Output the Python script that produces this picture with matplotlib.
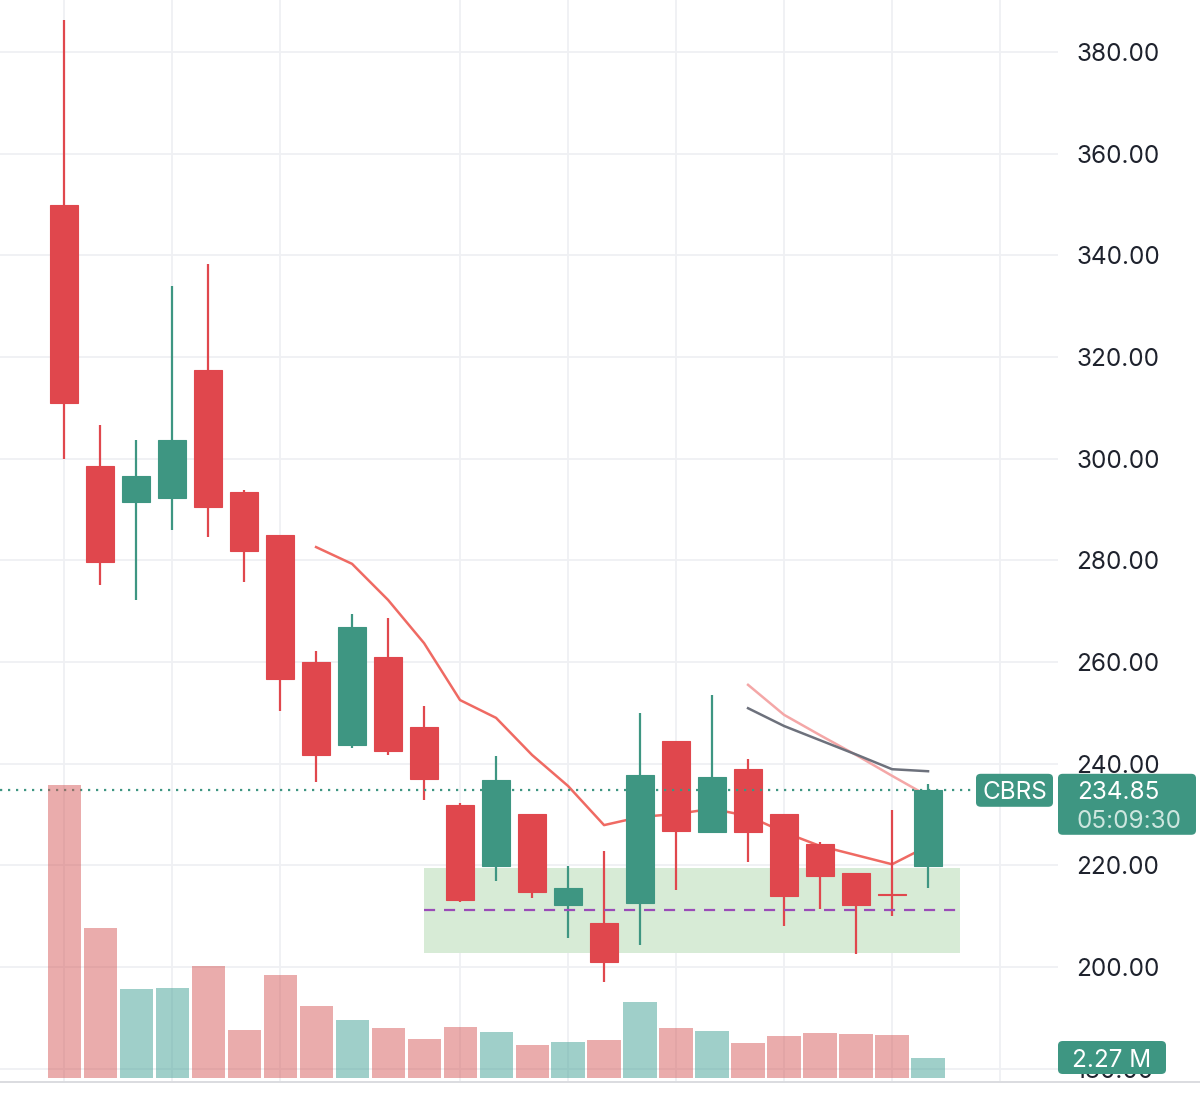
"""
CBRS daily candles with volume, moving averages and a support zone
(TradingView-style layout, price scale on the right).
"""
import matplotlib

matplotlib.use("Agg")
import matplotlib.pyplot as plt
import numpy as np
from matplotlib.lines import Line2D
from matplotlib.patches import FancyBboxPatch

# --- data -----------------------------------------------------------------
opens = [349.9, 298.6, 291.5, 292.3, 317.4, 293.4, 285.0, 260.0, 243.7, 261.0,
         247.2, 231.9, 219.9, 230.1, 212.2, 208.6, 212.6, 244.5, 226.5, 238.9,
         230.1, 224.2, 218.5, 214.3, 219.9]
closes = [311.0, 279.7, 296.6, 303.7, 290.5, 281.8, 256.6, 241.7, 266.9, 242.5,
          237.0, 213.2, 236.8, 214.8, 215.5, 201.0, 237.8, 226.7, 237.4, 226.5,
          214.0, 217.9, 212.2, 214.1, 234.85]
highs = [386.3, 306.6, 303.7, 334.0, 338.3, 293.8, 285.0, 262.2, 269.4, 268.6,
         251.3, 232.3, 241.5, 230.1, 219.9, 222.8, 250.0, 244.5, 253.5, 240.9,
         230.1, 224.6, 218.5, 230.9, 236.0]
lows = [299.9, 275.1, 272.2, 286.0, 284.6, 275.7, 250.4, 236.4, 243.1, 241.7,
        232.8, 212.8, 216.9, 213.6, 205.7, 197.0, 204.3, 215.1, 226.5, 220.6,
        208.1, 211.4, 202.6, 210.0, 215.6]
volume_m = [33.3, 17.0, 10.1, 10.2, 12.7, 5.4, 11.7, 8.2, 6.6, 5.7,
            4.4, 5.8, 5.2, 3.7, 4.1, 4.3, 8.6, 5.7, 5.3, 4.0,
            4.8, 5.1, 5.0, 4.9, 2.27]

ma_red_start = 7
ma_red = [282.6, 279.3, 272.2, 263.7, 252.5, 249.0, 241.7, 235.6, 227.9,
          229.5, 230.1, 231.1, 229.7, 226.5, 223.8, 222.0, 220.2, 223.8]
ma_short_start = 19
ma_pink = [255.5, 249.6, 245.6, 241.7, 237.6, 233.6]
ma_gray = [250.9, 247.4, 244.6, 241.8, 238.9, 238.5]

zone_x = (10.0, 24.9)
zone_lo, zone_hi = 202.7, 219.5
zone_mid = 211.2

ticker = "CBRS"
countdown = "05:09:30"
price_ticks = [180, 200, 220, 240, 260, 280, 300, 320, 340, 360, 380]
grid_x = [0, 3, 6, 11, 14, 17, 20, 23, 26]

# --- style ------------------------------------------------------------------
UP = "#3E9682"
DOWN = "#E0474D"
VOL_UP = "#41A195"
VOL_DOWN = "#D65A5A"
GRID = "#EFF0F3"
TEXT = "#1E222D"
W, H = 1200, 1094

plt.rcParams["font.family"] = ["Inter", "DejaVu Sans"]

fig = plt.figure(figsize=(W / 100, H / 100), dpi=100)
ax = fig.add_axes([0, 13 / H, 1058 / W, 1081 / H])
# twin drawn on top of ax, so the grid shows through the translucent bars
vax = ax.twinx()

idx = np.arange(len(opens))
o, c = np.array(opens), np.array(closes)
up = c >= o
colors = np.where(up, UP, DOWN)

# volume (own scale, bottom of the pane)
vax.bar(idx, volume_m, width=0.92,
        color=np.where(up, VOL_UP, VOL_DOWN), alpha=0.5, linewidth=0)
vax.set_ylim(-0.34, 122.35)
vax.axis("off")

# support zone + mid line
ax.fill_between(zone_x, zone_lo, zone_hi, color="#D7EBD6", lw=0, zorder=1)
ax.hlines(zone_mid, *zone_x, colors="#9A4DB7", linestyles=(0, (5, 4)),
          lw=1.6, zorder=6)

# moving averages (behind candles)
ax.plot(idx[ma_red_start:], ma_red, color="#EF6A63", lw=1.8, zorder=2)
ax.plot(idx[ma_short_start:], ma_pink, color="#F4A7A7", lw=1.8, zorder=2)
ax.plot(idx[ma_short_start:], ma_gray, color="#6D717C", lw=1.8, zorder=2)

# candles
ax.vlines(idx, lows, highs, colors=colors, lw=1.6, zorder=3)
ax.bar(idx, np.abs(c - o), bottom=np.minimum(o, c), width=0.8,
       color=colors, edgecolor=colors, linewidth=0.8, zorder=4)

# last-price dotted line
ax.axhline(closes[-1], xmax=976 / 1058, color=UP, lw=1.6,
           linestyle=(0, (1, 2.6)), zorder=5)

ax.set_xlim(-1.78, 27.61)
ax.set_ylim(177.56, 390.23)
ax.set_xticks(grid_x)
ax.set_yticks(price_ticks)
ax.set_yticklabels([f"{t:.2f}" for t in price_ticks])
ax.yaxis.tick_right()
ax.tick_params(axis="both", length=0, labelsize=17.5, labelcolor=TEXT)
ax.tick_params(axis="y", pad=13)
ax.tick_params(axis="x", labelbottom=False)
ax.grid(True, color=GRID, lw=1.3)
ax.set_axisbelow(True)
for s in ax.spines.values():
    s.set_visible(False)

fig.add_artist(Line2D([0, 1], [12.5 / H] * 2, color="#DADCE0", lw=1.4,
                      transform=fig.transFigure))


def box(x0, y0, w, h, color):
    """Rounded label box in display pixels (origin bottom-left)."""
    p = FancyBboxPatch((x0 / W, y0 / H), w / W, h / H,
                       boxstyle="round,pad=0,rounding_size=0.004",
                       transform=fig.transFigure, fc=color, ec="none",
                       zorder=10)
    fig.add_artist(p)


def label(x, y, s, color="white", ha="left"):
    fig.text(x / W, y / H, s, color=color, fontsize=17.5, ha=ha,
             va="center_baseline", zorder=11)


y_price = ax.transData.transform((0, closes[-1]))[1]
box(976, y_price - 17, 77, 33, UP)
label(1014.5, y_price, ticker, ha="center")
box(1058, y_price - 45, 138, 61, UP)
label(1077, y_price, f"{closes[-1]:.2f}")
label(1077, y_price - 29, countdown, color="#CDE6DF")

y_vol = vax.transData.transform((0, volume_m[-1]))[1]
box(1058, y_vol - 16, 108, 33, UP)
label(1112, y_vol, f"{volume_m[-1]:.2f} M", ha="center")

fig.savefig("out.png", dpi=100, facecolor="white")
